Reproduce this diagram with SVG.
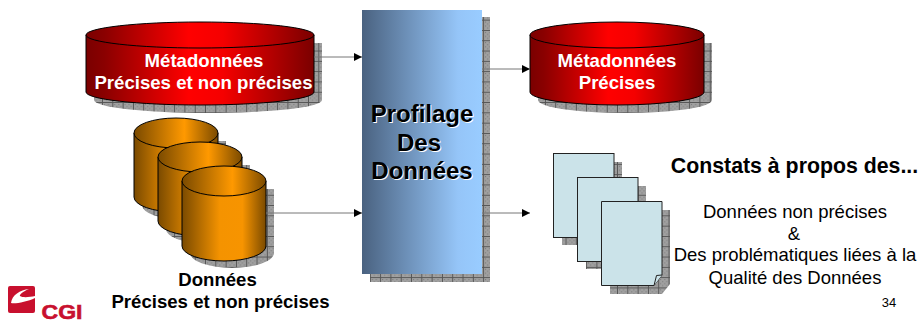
<svg xmlns="http://www.w3.org/2000/svg" width="919" height="323" viewBox="0 0 919 323">
<style>
text{font-family:"Liberation Sans",Arial,sans-serif;text-anchor:middle}
.w{fill:#fff;font-size:18.6px;font-weight:bold}
.k{fill:#000;font-size:18.5px}
.lb{fill:#000;font-size:18.6px;font-weight:bold}
.p{font-size:24px;font-weight:bold}
.s{fill:url(#hatch);stroke:none}
.o{stroke:#000;stroke-width:1;fill:url(#org)}
.ot{stroke:#000;stroke-width:1;fill:url(#orgt)}
.r{stroke:#000;stroke-width:1;fill:url(#red)}
.d{fill:#cbe3e9;stroke:#222;stroke-width:1}
.c{stroke:#777;stroke-width:1;fill:none;marker-end:url(#ah)}
</style>
<defs>
<pattern id="hatch" width="10.3" height="10.3" patternUnits="userSpaceOnUse">
<rect width="10.3" height="10.3" fill="#a0a0a0"/>
<rect x="1" y="1" width="1" height="1" fill="#777"/><rect x="3" y="3" width="1" height="1" fill="#777"/><rect x="5" y="1" width="1" height="1" fill="#777"/><rect x="7" y="3" width="1" height="1" fill="#777"/><rect x="1" y="5" width="1" height="1" fill="#777"/><rect x="5" y="5" width="1" height="1" fill="#777"/><rect x="3" y="7" width="1" height="1" fill="#777"/><rect x="7" y="7" width="1" height="1" fill="#777"/>
<path d="M0 9.8H10.3M9.8 0V10.3" stroke="#555" stroke-width="1"/>
</pattern>
<linearGradient id="red"><stop offset="0" stop-color="#7a0000"/><stop offset=".08" stop-color="#8a0000"/><stop offset=".45" stop-color="#ff0000"/><stop offset=".6" stop-color="#f50000"/><stop offset="1" stop-color="#7a0000"/></linearGradient>
<linearGradient id="org"><stop offset="0" stop-color="#7a4a00"/><stop offset=".45" stop-color="#f59300"/><stop offset=".72" stop-color="#f79400"/><stop offset="1" stop-color="#7a4a00"/></linearGradient>
<linearGradient id="orgt"><stop offset="0" stop-color="#7a4a00"/><stop offset=".6" stop-color="#ff9900"/><stop offset="1" stop-color="#7a4a00"/></linearGradient>
<linearGradient id="blue"><stop offset="0" stop-color="#4a6280"/><stop offset=".8" stop-color="#95c5f8"/><stop offset="1" stop-color="#99ccff"/></linearGradient>
<marker id="ah" markerUnits="userSpaceOnUse" markerWidth="8" markerHeight="8" refX="8" refY="4" orient="auto"><path d="M0 0L8 4L0 8Z" fill="#000"/></marker>
</defs>
<g id="meta-all">
<path class="s" d="M94 43H322V100A114 13 0 0 1 94 100Z"/>
<path class="r" d="M86 35V92A114 13 0 0 0 314 92V35Z"/>
<ellipse class="r" cx="200" cy="35" rx="114" ry="13"/>
<text class="w" x="204" y="67">Métadonnées</text>
<text class="w" x="203.5" y="89">Précises et non précises</text>
</g>
<g id="data-1">
<path class="s" d="M142 141H226V205A42 15 0 0 1 142 205Z"/>
<path class="o" d="M134 133V197A42 15 0 0 0 218 197V133Z"/>
<ellipse class="ot" cx="176" cy="133" rx="42" ry="15"/>
</g>
<g id="data-2">
<path class="s" d="M166 165H250V229A42 15 0 0 1 166 229Z"/>
<path class="o" d="M158 157V221A42 15 0 0 0 242 221V157Z"/>
<ellipse class="ot" cx="200" cy="157" rx="42" ry="15"/>
</g>
<g id="data-3">
<path class="s" d="M190 189H274V253A42 15 0 0 1 190 253Z"/>
<path class="o" d="M182 181V246A42 15 0 0 0 266 246V181Z"/>
<ellipse class="ot" cx="224" cy="181" rx="42" ry="15"/>
<text class="lb" x="217.5" y="286">Données</text>
<text class="lb" x="220.5" y="308">Précises et non précises</text>
</g>
<g id="profilage">
<rect class="s" x="370" y="17" width="120" height="265"/>
<rect x="362" y="10" width="120" height="264" fill="url(#blue)"/>
<g class="p">
<text x="423" y="123" fill="#fff">Profilage</text><text x="422" y="122" fill="#000">Profilage</text>
<text x="420" y="152" fill="#fff">Des</text><text x="419" y="151" fill="#000">Des</text>
<text x="423" y="180" fill="#fff">Données</text><text x="422" y="179" fill="#000">Données</text>
</g>
</g>
<g id="meta-precise">
<path class="s" d="M538 43H712V100A87 13 0 0 1 538 100Z"/>
<path class="r" d="M530 35V92A87 13 0 0 0 704 92V35Z"/>
<ellipse class="r" cx="617" cy="35" rx="87" ry="13"/>
<text class="w" x="617" y="67">Métadonnées</text>
<text class="w" x="617" y="89">Précises</text>
</g>
<g id="doc-1">
<rect class="s" x="562" y="162" width="60" height="83"/>
<rect class="d" x="553.5" y="153.5" width="60.5" height="84"/>
</g>
<g id="doc-2">
<rect class="s" x="586" y="186" width="60" height="83"/>
<rect class="d" x="577.5" y="177.5" width="60.5" height="84"/>
</g>
<g id="doc-3">
<path class="s" d="M610 210H670V284L662 294H610Z"/>
<path class="d" d="M601.5 201.5H662V275L654 285.5H601.5Z"/>
<path class="d" d="M654 285.5L656.5 275.5L662 275" fill="#fff"/>
</g>
<g id="constats">
<text x="794.5" y="173" font-size="21.3" font-weight="bold">Constats à propos des...</text>
<text class="k" x="795" y="218">Données non précises</text>
<text class="k" x="794" y="240">&amp;</text>
<text class="k" x="795" y="261">Des problématiques liées à la</text>
<text class="k" x="795" y="284">Qualité des Données</text>
<text x="889" y="307" font-size="13">34</text>
</g>
<g id="logo">
<rect x="8" y="286" width="27" height="27" rx="2" fill="#c8102e"/>
<path d="M11 303C12 295 20 290 29 289C22 292 19 295 20 296C23 298 30 297 35 296V298C27 302 15 304 11 303Z" fill="#fff"/>
<text x="62" y="318.5" font-size="21" font-weight="bold" fill="#c8102e" stroke="#c8102e" stroke-width=".6" textLength="41" lengthAdjust="spacingAndGlyphs">CGI</text>
</g>
<g id="connectors">
<path class="c" d="M314 57H362"/>
<path class="c" d="M266 213H362"/>
<path class="c" d="M482 69H530"/>
<path class="c" d="M482 213H530"/>
</g>
</svg>
